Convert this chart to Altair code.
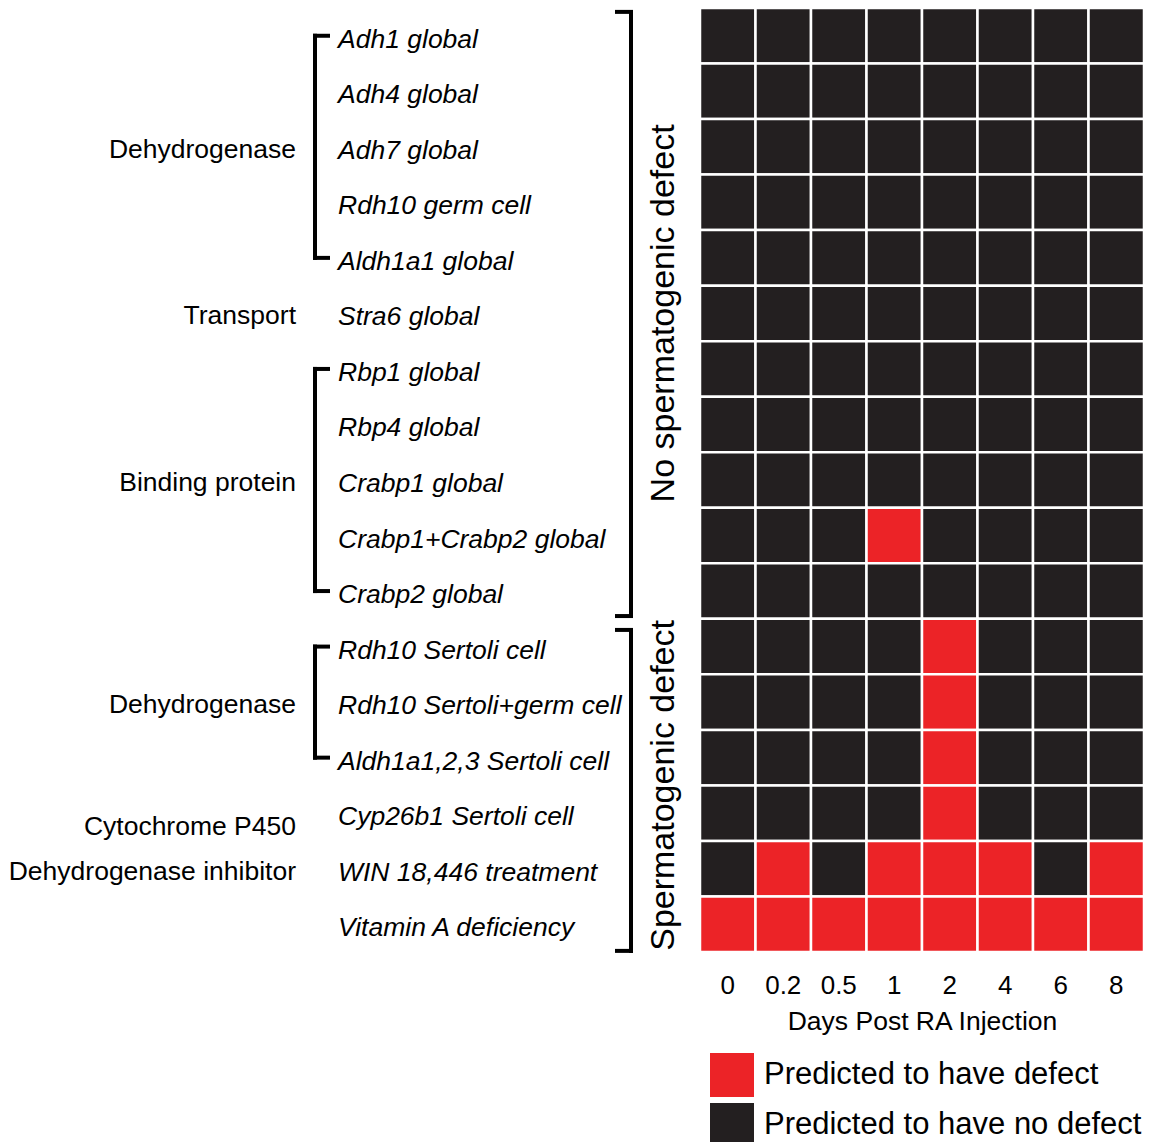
import altair as alt
import pandas as pd

FONT = "Liberation Sans"
RED = "#EC2327"
BLACK = "#231F20"

days = ["0", "0.2", "0.5", "1", "2", "4", "6", "8"]
genes = [
    "Adh1 global", "Adh4 global", "Adh7 global", "Rdh10 germ cell",
    "Aldh1a1 global", "Stra6 global", "Rbp1 global", "Rbp4 global",
    "Crabp1 global", "Crabp1+Crabp2 global", "Crabp2 global",
    "Rdh10 Sertoli cell", "Rdh10 Sertoli+germ cell", "Aldh1a1,2,3 Sertoli cell",
    "Cyp26b1 Sertoli cell", "WIN 18,446 treatment", "Vitamin A deficiency",
]
# 1 = predicted to have defect, 0 = predicted to have no defect
defect_rows = [
    [0, 0, 0, 0, 0, 0, 0, 0],
    [0, 0, 0, 0, 0, 0, 0, 0],
    [0, 0, 0, 0, 0, 0, 0, 0],
    [0, 0, 0, 0, 0, 0, 0, 0],
    [0, 0, 0, 0, 0, 0, 0, 0],
    [0, 0, 0, 0, 0, 0, 0, 0],
    [0, 0, 0, 0, 0, 0, 0, 0],
    [0, 0, 0, 0, 0, 0, 0, 0],
    [0, 0, 0, 0, 0, 0, 0, 0],
    [0, 0, 0, 1, 0, 0, 0, 0],
    [0, 0, 0, 0, 0, 0, 0, 0],
    [0, 0, 0, 0, 1, 0, 0, 0],
    [0, 0, 0, 0, 1, 0, 0, 0],
    [0, 0, 0, 0, 1, 0, 0, 0],
    [0, 0, 0, 0, 1, 0, 0, 0],
    [0, 1, 0, 1, 1, 1, 0, 1],
    [1, 1, 1, 1, 1, 1, 1, 1],
]
status_labels = ["Predicted to have defect", "Predicted to have no defect"]

category_labels = ["Dehydrogenase", "Transport", "Binding protein",
                   "Dehydrogenase", "Cytochrome P450", "Dehydrogenase inhibitor"]
category_rows = [2.5, 5.5, 8.5, 12.5, 14.7, 15.5]

# left brackets (row-centre extents)
left_start = [0.5, 6.5, 11.5]
left_end = [4.5, 10.5, 13.5]
# right brackets
right_start = [0.07, 11.2]
right_end = [10.95, 16.98]
group_titles = ["No spermatogenic defect", "Spermatogenic defect"]
group_mid = [5.5, 14.0]

cells = []
for i, g in enumerate(genes):
    for j, d in enumerate(days):
        cells.append({"gene": g, "row": i, "row1": i + 1, "day": d,
                      "status": status_labels[0] if defect_rows[i][j] else status_labels[1]})
cells = pd.DataFrame(cells)
gene_df = pd.DataFrame({"gene": genes, "mid": [i + 0.5 for i in range(len(genes))]})
cat_df = pd.DataFrame({"label": category_labels, "y": category_rows})
lb = pd.DataFrame({"y": left_start, "y2": left_end})
lt = pd.DataFrame({"y": left_start + left_end})
rb = pd.DataFrame({"y": right_start, "y2": right_end})
rt = pd.DataFrame({"y": right_start + right_end})
gt = pd.DataFrame({"label": group_titles, "y": group_mid})

yscale = alt.Scale(domain=[0, len(genes)], reverse=True, nice=False, zero=False)

heat = alt.Chart(cells).mark_rect(stroke="white", strokeWidth=2.5).encode(
    x=alt.X("day:N", sort=days, scale=alt.Scale(domain=days, paddingInner=0, paddingOuter=0),
            axis=alt.Axis(orient="bottom", title="Days Post RA Injection", labelAngle=0,
                          labelFontSize=26, titleFontSize=26.5, titleFontWeight="normal",
                          ticks=False, domain=False, labelPadding=20, titlePadding=10,
                          labelColor="black", titleColor="black", labelFont=FONT, titleFont=FONT)),
    y=alt.Y("row:Q", scale=yscale, axis=None),
    y2="row1:Q",
    color=alt.Color("status:N", scale=alt.Scale(domain=status_labels, range=[RED, BLACK]),
                    legend=alt.Legend(title=None, orient="none", legendX=10, legendY=1045,
                                      symbolType="square", symbolSize=1936, symbolStrokeWidth=0,
                                      symbolOpacity=1, labelFontSize=31, labelFont=FONT,
                                      labelColor="black", labelOffset=10, rowPadding=6,
                                      labelLimit=500)),
)

gene_text = alt.Chart(gene_df).mark_text(align="left", baseline="middle", fontSize=26.5, dy=4,
                                         fontStyle="italic", font=FONT, color="black").encode(
    x=alt.value(-362), y=alt.Y("mid:Q", scale=yscale, axis=None), text="gene:N")

cat_text = alt.Chart(cat_df).mark_text(align="right", baseline="middle", fontSize=26.5, dy=3,
                                       font=FONT, color="black").encode(
    x=alt.value(-404), y=alt.Y("y:Q", scale=yscale, axis=None), text="label:N")

left_v = alt.Chart(lb).mark_rule(strokeWidth=4, color="black", strokeCap="square").encode(
    x=alt.value(-385), y=alt.Y("y:Q", scale=yscale, axis=None), y2="y2:Q")
left_t = alt.Chart(lt).mark_rule(strokeWidth=4, color="black", strokeCap="square").encode(
    x=alt.value(-385), x2=alt.value(-372), y=alt.Y("y:Q", scale=yscale, axis=None))

right_v = alt.Chart(rb).mark_rule(strokeWidth=4, color="black", strokeCap="square").encode(
    x=alt.value(-69), y=alt.Y("y:Q", scale=yscale, axis=None), y2="y2:Q")
right_t = alt.Chart(rt).mark_rule(strokeWidth=4, color="black", strokeCap="square").encode(
    x=alt.value(-83), x2=alt.value(-69), y=alt.Y("y:Q", scale=yscale, axis=None))

group_text = alt.Chart(gt).mark_text(angle=270, align="center", baseline="middle", fontSize=34,
                                     font=FONT, color="black").encode(
    x=alt.value(-36), y=alt.Y("y:Q", scale=yscale, axis=None), text="label:N")

chart = alt.layer(heat, gene_text, cat_text, left_v, left_t, right_v, right_t, group_text).properties(
    width=444, height=944,
    autosize=alt.AutoSizeParams(type="none"),
    padding={"left": 692, "top": 0, "right": 3, "bottom": 190},
).configure_view(stroke=None).configure(font=FONT)

chart.save("out.html", embed_options={"renderer": "svg", "actions": False})
